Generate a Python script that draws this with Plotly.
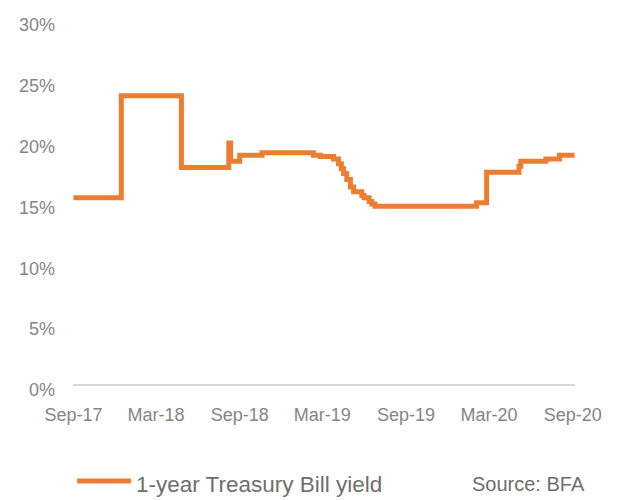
import plotly.graph_objects as go

# 1-year Treasury Bill yield (%), step changes by date
dates = [
    "2017-09-01", "2017-12-15", "2018-04-26", "2018-08-08", "2018-08-12",
    "2018-09-01", "2018-10-20", "2019-02-10", "2019-02-25", "2019-03-26",
    "2019-04-06", "2019-04-12", "2019-04-17", "2019-04-24", "2019-05-02",
    "2019-05-09", "2019-05-27", "2019-06-01", "2019-06-12", "2019-06-18",
    "2019-06-25", "2020-02-03", "2020-02-25", "2020-05-06", "2020-05-10",
    "2020-07-04", "2020-08-03", "2020-09-05",
]
yields = [
    15.3, 23.7, 17.8, 19.8, 18.3,
    18.8, 19.0, 18.8, 18.7, 18.5,
    18.1, 17.7, 17.3, 16.8, 16.2,
    15.8, 15.5, 15.3, 15.0, 14.8,
    14.6, 14.9, 17.4, 17.9, 18.3,
    18.5, 18.8, 18.8,
]
series_name = "1-year Treasury Bill yield"
source_text = "Source: BFA"
y_ticks = [0, 5, 10, 15, 20, 25, 30]
y_tick_labels = [f"{v}%" for v in y_ticks]

W, H = 622, 500
ML, MR, MT, MB = 73, 47, 19, 116
ORANGE = "#ED7D31"
FONT = "Liberation Sans, Arial, sans-serif"

def paper_x(px):
    return (px - ML) / (W - ML - MR)

def paper_y(py):
    return (H - MB - py) / (H - MT - MB)

fig = go.Figure()
fig.add_trace(go.Scatter(
    x=dates, y=yields, mode="lines", name=series_name,
    line=dict(color=ORANGE, width=5, shape="hv"),
    showlegend=False,
))

fig.update_layout(
    width=W, height=H,
    margin=dict(l=ML, r=MR, t=MT, b=MB, pad=0),
    paper_bgcolor="white", plot_bgcolor="white",
    font=dict(family=FONT, size=18, color="#858585"),
    xaxis=dict(
        type="date", automargin=False,
        range=["2017-08-31", "2020-09-06"],
        tick0="2017-09-01", dtick="M6", tickformat="%b-%y",
        showgrid=False, zeroline=False,
        showline=True, linecolor="#d6d6d6", linewidth=1.5,
        ticks="", ticklabelstandoff=14,
        tickfont=dict(size=18, color="#858585"),
    ),
    yaxis=dict(
        automargin=False,
        range=[0, 30], tickvals=y_ticks, ticktext=y_tick_labels,
        showgrid=False, zeroline=False, showline=False,
        ticks="", ticklabelstandoff=17, ticklabelshift=6,
        tickfont=dict(size=18, color="#858585"),
    ),
    shapes=[dict(
        type="line", xref="paper", yref="paper",
        x0=paper_x(77), x1=paper_x(131), y0=paper_y(481), y1=paper_y(481),
        line=dict(color=ORANGE, width=5),
    )],
    annotations=[
        dict(text=series_name, xref="paper", yref="paper",
             x=paper_x(134), y=paper_y(484), xanchor="left", yanchor="middle",
             showarrow=False, font=dict(size=22.5, color="#6e6e6e", family=FONT)),
        dict(text=source_text, xref="paper", yref="paper",
             x=paper_x(470), y=paper_y(484), xanchor="left", yanchor="middle",
             showarrow=False, font=dict(size=20, color="#6e6e6e", family=FONT)),
    ],
)

fig.write_html("out.html")
